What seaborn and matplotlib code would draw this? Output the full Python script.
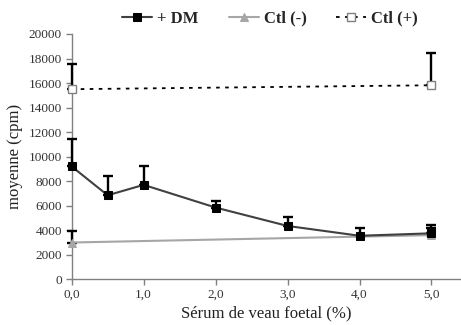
import matplotlib
matplotlib.use("Agg")
import matplotlib.pyplot as plt
import seaborn as sns
import numpy as np
import pandas as pd

# Data
x_dm = [0.0, 0.5, 1.0, 2.0, 3.0, 4.0, 5.0]
y_dm = [9200, 6850, 7700, 5850, 4350, 3550, 3750]
err_dm = [2200, 1550, 1500, 550, 750, 650, 650]

x_neg = [0.0, 5.0]
y_neg = [3000, 3600]
err_neg = [950, 600]

x_pos = [0.0, 5.0]
y_pos = [15500, 15820]
err_pos = [2050, 2650]

xticks = [0, 1, 2, 3, 4, 5]
xticklabels = ["0,0", "1,0", "2,0", "3,0", "4,0", "5,0"]
yticks = list(range(0, 20001, 2000))

sns.set_theme(style="white")
plt.rcParams['font.family'] = ['Liberation Serif', 'DejaVu Serif']

fig = plt.figure(figsize=(4.61, 3.25), dpi=100)
ax = fig.add_axes([0.1555, 0.1406, 0.8445, 0.7548])

# error bars (upward only)
for xs, ys, es in [(x_dm, y_dm, err_dm), (x_neg, y_neg, err_neg), (x_pos, y_pos, err_pos)]:
    cont = ax.errorbar(xs, ys, yerr=[np.zeros(len(es)), es], fmt='none', ecolor='black',
                       elinewidth=1.7, capsize=3.5, capthick=1.7, zorder=3)
    for art in cont.lines[1]:
        art.set_clip_on(False)
    for art in cont.lines[2]:
        art.set_clip_on(False)

sns.lineplot(x=x_pos, y=y_pos, ax=ax, color='black', linestyle=(0, (2, 3)), linewidth=1.3,
             marker='s', markersize=6, markerfacecolor='white', markeredgecolor='#808080',
             markeredgewidth=1.0, label='Ctl (+)', zorder=4, clip_on=False)
sns.lineplot(x=x_neg, y=y_neg, ax=ax, color='#a6a6a6', linewidth=1.5,
             marker='^', markersize=6, markerfacecolor='#a6a6a6', markeredgecolor='#a6a6a6',
             label='Ctl (-)', zorder=4, clip_on=False)
sns.lineplot(x=x_dm, y=y_dm, ax=ax, color='#404040', linewidth=1.5,
             marker='s', markersize=6, markerfacecolor='black', markeredgecolor='black',
             label='+ DM', zorder=5, clip_on=False)

ax.set_xlim(0, 5.41)
ax.set_ylim(0, 20000)
ax.set_xticks(xticks)
ax.set_xticklabels(xticklabels)
ax.set_yticks(yticks)
ax.set_yticklabels([str(v) for v in yticks])

for s in ['top', 'right']:
    ax.spines[s].set_visible(False)
for s in ['left', 'bottom']:
    ax.spines[s].set_color('#808080')
    ax.spines[s].set_linewidth(1.0)
    ax.spines[s].set_zorder(1)
ax.tick_params(axis='both', which='both', direction='out', length=4, width=1,
               color='#808080', labelsize=9.5, labelcolor='#333333', pad=3)
ax.tick_params(axis='y', left=True)
ax.tick_params(axis='x', bottom=True)

ax.set_xlabel("Sérum de veau foetal (%)", fontsize=12, color='#222222', labelpad=3)
ax.set_ylabel("moyenne (cpm)", fontsize=12, color='#222222', labelpad=4)

handles, labels = ax.get_legend_handles_labels()
order = [labels.index(l) for l in ['+ DM', 'Ctl (-)', 'Ctl (+)']]
leg = ax.legend([handles[i] for i in order], [labels[i] for i in order], ncol=3,
                loc='center', bbox_to_anchor=(0.51, 1.063), frameon=False,
                prop={'weight': 'bold', 'size': 12}, handlelength=1.8, columnspacing=1.8,
                handletextpad=0.3, markerscale=0.9)

fig.savefig("out.png", dpi=100)
